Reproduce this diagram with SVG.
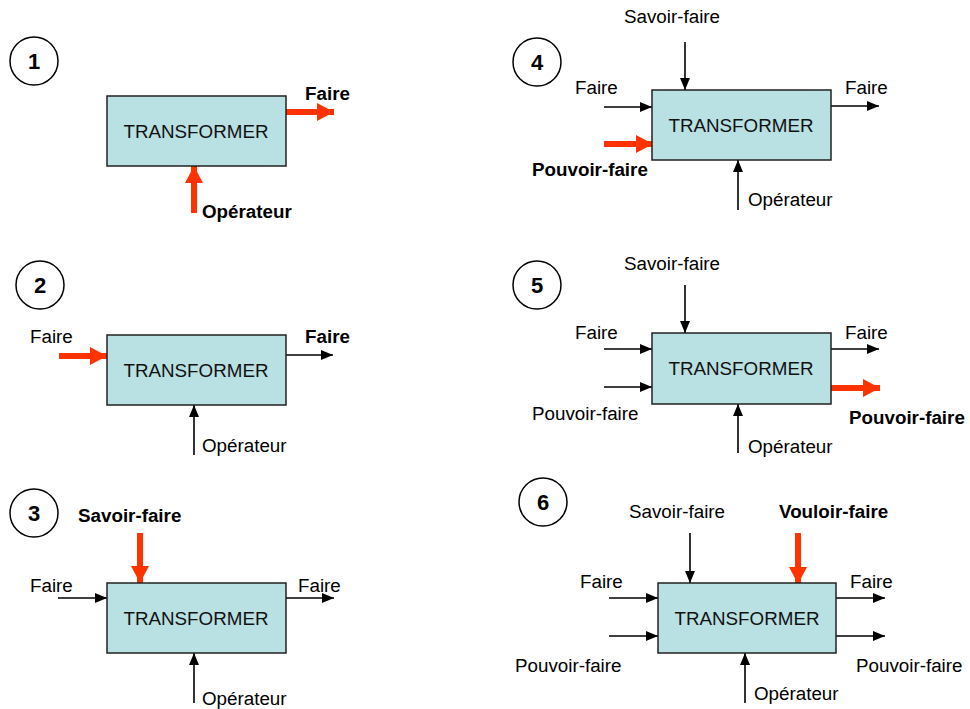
<svg xmlns="http://www.w3.org/2000/svg" width="970" height="709" viewBox="0 0 970 709">
<style>
.bg{fill:#fff}
.box{fill:#b9e0e3;stroke:#222;stroke-width:1.5}
.num{fill:#fff;stroke:#000;stroke-width:1.5}
.nt{font-family:"Liberation Sans",Arial,sans-serif;font-weight:bold;font-size:22px;fill:#000;text-anchor:middle}
.bt{font-family:"Liberation Sans",Arial,sans-serif;font-size:18.8px;fill:#111;text-anchor:middle}
.t{font-family:"Liberation Sans",Arial,sans-serif;font-size:18.8px;fill:#000}
.b{font-family:"Liberation Sans",Arial,sans-serif;font-size:18.8px;font-weight:bold;fill:#000}
.k{stroke:#000;stroke-width:1.6;fill:none;marker-end:url(#ak)}
.r{stroke:#ff3300;stroke-width:6;fill:none;marker-end:url(#ar)}
</style>
<defs>
<marker id="ak" markerUnits="userSpaceOnUse" markerWidth="12" markerHeight="10" refX="12" refY="5" orient="auto"><path d="M0,0 L12,5 L0,10 z" fill="#000"/></marker>
<marker id="ar" markerUnits="userSpaceOnUse" markerWidth="17" markerHeight="18" refX="17" refY="9" orient="auto"><path d="M0,0 L17,9 L0,18 z" fill="#ff3300"/></marker>
</defs>
<rect class="bg" x="0" y="0" width="970" height="709"/>

<g id="connectors">
<line class="r" x1="286" y1="112" x2="334" y2="112"/>
<line class="r" x1="194" y1="213" x2="194" y2="166"/>
<line class="r" x1="59" y1="356" x2="107" y2="356"/>
<line class="k" x1="286" y1="355" x2="333" y2="355"/>
<line class="k" x1="194" y1="455" x2="194" y2="405"/>
<line class="r" x1="140" y1="533" x2="140" y2="583"/>
<line class="k" x1="58" y1="598" x2="107" y2="598"/>
<line class="k" x1="286" y1="598" x2="334" y2="598"/>
<line class="k" x1="194" y1="703" x2="194" y2="653"/>
<line class="k" x1="685" y1="42" x2="685" y2="90"/>
<line class="k" x1="604" y1="107" x2="652" y2="107"/>
<line class="r" x1="604" y1="144" x2="653" y2="144"/>
<line class="k" x1="831" y1="106" x2="879" y2="106"/>
<line class="k" x1="738" y1="210" x2="738" y2="160"/>
<line class="k" x1="685" y1="285" x2="685" y2="333"/>
<line class="k" x1="604" y1="349" x2="652" y2="349"/>
<line class="k" x1="604" y1="387" x2="652" y2="387"/>
<line class="k" x1="831" y1="349" x2="879" y2="349"/>
<line class="r" x1="831" y1="388" x2="880" y2="388"/>
<line class="k" x1="738" y1="453" x2="738" y2="404"/>
<line class="k" x1="690" y1="533" x2="690" y2="583"/>
<line class="r" x1="798" y1="533" x2="798" y2="584"/>
<line class="k" x1="609" y1="598" x2="658" y2="598"/>
<line class="k" x1="609" y1="636" x2="658" y2="636"/>
<line class="k" x1="836" y1="598" x2="885" y2="598"/>
<line class="k" x1="836" y1="636" x2="885" y2="636"/>
<line class="k" x1="745" y1="703" x2="745" y2="653"/>
</g>

<g id="panel1">
<circle class="num" cx="34" cy="61" r="24"/><text class="nt" x="34" y="69">1</text>
<rect class="box" x="107" y="96" width="179" height="70"/>
<text class="bt" x="196" y="138">TRANSFORMER</text>
<text class="b" x="305" y="100">Faire</text>
<text class="b" x="202" y="218">Opérateur</text>
</g>

<g id="panel2">
<circle class="num" cx="40" cy="285" r="24"/><text class="nt" x="40" y="293">2</text>
<rect class="box" x="107" y="335" width="179" height="70"/>
<text class="bt" x="196" y="377">TRANSFORMER</text>
<text class="t" x="30" y="343">Faire</text>
<text class="b" x="305" y="343">Faire</text>
<text class="t" x="202" y="452">Opérateur</text>
</g>

<g id="panel3">
<circle class="num" cx="34" cy="513" r="24"/><text class="nt" x="34" y="521">3</text>
<rect class="box" x="107" y="583" width="179" height="70"/>
<text class="bt" x="196" y="625">TRANSFORMER</text>
<text class="b" x="78" y="522">Savoir-faire</text>
<text class="t" x="30" y="592">Faire</text>
<text class="t" x="298" y="592">Faire</text>
<text class="t" x="202" y="705">Opérateur</text>
</g>

<g id="panel4">
<circle class="num" cx="537" cy="62" r="24"/><text class="nt" x="537" y="70">4</text>
<rect class="box" x="652" y="90" width="179" height="70"/>
<text class="bt" x="741" y="132">TRANSFORMER</text>
<text class="t" x="624" y="23">Savoir-faire</text>
<text class="t" x="575" y="94">Faire</text>
<text class="b" x="532" y="176">Pouvoir-faire</text>
<text class="t" x="845" y="94">Faire</text>
<text class="t" x="748" y="206">Opérateur</text>
</g>

<g id="panel5">
<circle class="num" cx="537" cy="285" r="24"/><text class="nt" x="537" y="293">5</text>
<rect class="box" x="652" y="333" width="179" height="71"/>
<text class="bt" x="741" y="375">TRANSFORMER</text>
<text class="t" x="624" y="270">Savoir-faire</text>
<text class="t" x="575" y="339">Faire</text>
<text class="t" x="532" y="420">Pouvoir-faire</text>
<text class="t" x="845" y="339">Faire</text>
<text class="b" x="849" y="424">Pouvoir-faire</text>
<text class="t" x="748" y="453">Opérateur</text>
</g>

<g id="panel6">
<circle class="num" cx="543" cy="502" r="24"/><text class="nt" x="543" y="510">6</text>
<rect class="box" x="658" y="583" width="178" height="70"/>
<text class="bt" x="747" y="625">TRANSFORMER</text>
<text class="t" x="629" y="518">Savoir-faire</text>
<text class="b" x="779" y="518">Vouloir-faire</text>
<text class="t" x="580" y="588">Faire</text>
<text class="t" x="515" y="672">Pouvoir-faire</text>
<text class="t" x="850" y="588">Faire</text>
<text class="t" x="856" y="672">Pouvoir-faire</text>
<text class="t" x="754" y="700">Opérateur</text>
</g>
</svg>
